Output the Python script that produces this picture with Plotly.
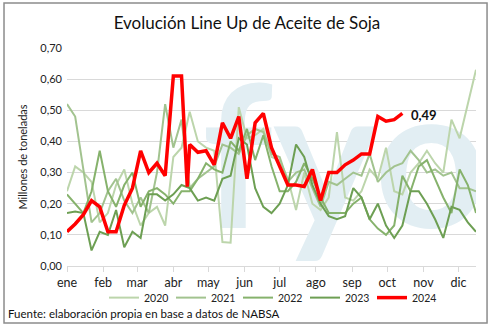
import datetime as dt
import plotly.graph_objects as go

months = ["ene", "feb", "mar", "abr", "may", "jun", "jul", "ago", "sep", "oct", "nov", "dic"]

s2020 = [0.24, 0.32, 0.30, 0.27, 0.14, 0.17, 0.26, 0.31, 0.20, 0.13, 0.17, 0.19, 0.13, 0.35, 0.38,
         0.495, 0.40, 0.38, 0.37, 0.077, 0.075, 0.51, 0.41, 0.42, 0.44, 0.35, 0.34, 0.28, 0.18, 0.30,
         0.20, 0.18, 0.22, 0.43, 0.22, 0.21, 0.24, 0.31, 0.28, 0.38, 0.24, 0.23, 0.30, 0.33, 0.37,
         0.33, 0.30, 0.47, 0.41, 0.52, 0.63]
s2021 = [0.52, 0.48, 0.31, 0.14, 0.17, 0.24, 0.28, 0.21, 0.17, 0.22, 0.17, 0.30, 0.52, 0.38, 0.47,
         0.25, 0.28, 0.30, 0.32, 0.39, 0.38, 0.36, 0.42, 0.44, 0.43, 0.36, 0.35, 0.27, 0.30, 0.31,
         0.25, 0.19, 0.27, 0.26, 0.28, 0.30, 0.29, 0.36, 0.27, 0.30, 0.32, 0.33, 0.37, 0.34, 0.30,
         0.31, 0.29, 0.30, 0.25, 0.25, 0.24]
s2022 = [0.23, 0.20, 0.17, 0.24, 0.37, 0.24, 0.19, 0.26, 0.30, 0.19, 0.24, 0.25, 0.23, 0.20, 0.24,
         0.24, 0.28, 0.33, 0.31, 0.30, 0.40, 0.37, 0.44, 0.34, 0.42, 0.32, 0.24, 0.24, 0.27, 0.33,
         0.28, 0.22, 0.17, 0.17, 0.17, 0.20, 0.22, 0.15, 0.12, 0.10, 0.13, 0.29, 0.24, 0.32, 0.34,
         0.28, 0.22, 0.17, 0.31, 0.26, 0.17]
s2023 = [0.17, 0.175, 0.17, 0.05, 0.11, 0.10, 0.18, 0.06, 0.11, 0.09, 0.23, 0.23, 0.21, 0.23, 0.26,
         0.25, 0.21, 0.22, 0.21, 0.28, 0.29, 0.41, 0.39, 0.25, 0.19, 0.17, 0.20, 0.26, 0.39, 0.35,
         0.26, 0.20, 0.16, 0.15, 0.16, 0.25, 0.22, 0.15, 0.20, 0.13, 0.09, 0.13, 0.24, 0.24, 0.20,
         0.15, 0.09, 0.19, 0.18, 0.14, 0.11]
s2024 = [0.11, 0.135, 0.165, 0.21, 0.19, 0.11, 0.11, 0.195, 0.25, 0.37, 0.30, 0.33, 0.29, 0.61, 0.61,
         0.255, 0.39, 0.365, 0.37, 0.325, 0.46, 0.41, 0.48, 0.28, 0.46, 0.49, 0.38, 0.32, 0.26, 0.26,
         0.255, 0.31, 0.21, 0.30, 0.30, 0.325, 0.34, 0.36, 0.36, 0.48, 0.465, 0.47, 0.49]
weeks = list(range(51))
weeks_2024 = list(range(15)) + [14.7] + list(range(15, 42))

base = dt.datetime(2024, 1, 1)
def to_dates(ws):
    return [base + dt.timedelta(days=7 * w) for w in ws]

series = [
    ("2020", s2020, "#bcd5ab", 2),
    ("2021", s2021, "#a2c38f", 2),
    ("2022", s2022, "#86b26c", 2),
    ("2023", s2023, "#6d9f53", 2),
]

FONT = "Lato"
fig = go.Figure()

# watermark (logo) drawn first so that it sits beneath the lines
fig.add_trace(go.Scatter(x=to_dates([34]), y=[0.28], mode="text", text=["<b>fyo</b>"],
                         textfont=dict(size=198, color="#e2eef3", family=FONT),
                         showlegend=False, hoverinfo="skip", cliponaxis=True))

for name, vals, col, w in series:
    fig.add_trace(go.Scatter(x=to_dates(weeks), y=vals, name=name, mode="lines",
                             line=dict(color=col, width=w)))
fig.add_trace(go.Scatter(x=to_dates(weeks_2024), y=s2024, name="2024", mode="lines",
                         line=dict(color="#ff0000", width=3.5)))

last_x = to_dates(weeks_2024)[-1]
fig.add_annotation(x=last_x, y=s2024[-1], text="<b>0,49</b>", showarrow=False,
                   xanchor="left", xshift=7, yanchor="middle", yshift=-2,
                   font=dict(size=13, color="#111111", family=FONT))

tickvals = [dt.datetime(2024, m, 1) for m in range(1, 13)]

fig.update_layout(
    width=494, height=328,
    margin=dict(l=67, r=18, t=48, b=62),
    paper_bgcolor="white", plot_bgcolor="white",
    separators=",.",
    title=dict(text="Evolución Line Up de Aceite de Soja", x=0.5, xanchor="center",
               y=0.93, yanchor="middle",
               font=dict(size=17, color="#111111", family=FONT)),
    xaxis=dict(range=[base, to_dates([50])[0]], tickvals=tickvals, ticktext=months,
               showgrid=False, showline=True, linecolor="#d9d9d9", ticks="outside",
               ticklen=5, tickcolor="#d9d9d9", ticklabelstandoff=0,
               tickfont=dict(size=12.5, color="#222222", family=FONT)),
    yaxis=dict(range=[0, 0.70], dtick=0.1, tickformat=".2f", showgrid=True,
               gridcolor="#d9d9d9", zeroline=False, ticklabelstandoff=4,
               tickfont=dict(size=11, color="#222222", family=FONT),
               title=dict(text="Millones de toneladas", standoff=10,
                          font=dict(size=11, color="#222222", family=FONT))),
    legend=dict(orientation="h", x=0.5, xanchor="center", y=-0.145, yanchor="middle",
                font=dict(size=10.5, color="#222222", family=FONT),
                entrywidth=22, entrywidthmode="pixels", tracegroupgap=0,
                bgcolor="rgba(0,0,0,0)"),
    showlegend=True,
)

fig.add_annotation(text="Fuente: elaboración propia en base a datos de NABSA", x=-0.15, y=-0.22,
                   xref="paper", yref="paper", xanchor="left", yanchor="middle", showarrow=False,
                   font=dict(size=11.5, color="#111111", family=FONT))

fig.add_shape(type="rect", xref="paper", yref="paper", x0=-0.154, x1=1.027, y0=-0.261, y1=1.206,
              line=dict(color="#8c8c8c", width=1.5), layer="below")

fig.write_html("out.html")
